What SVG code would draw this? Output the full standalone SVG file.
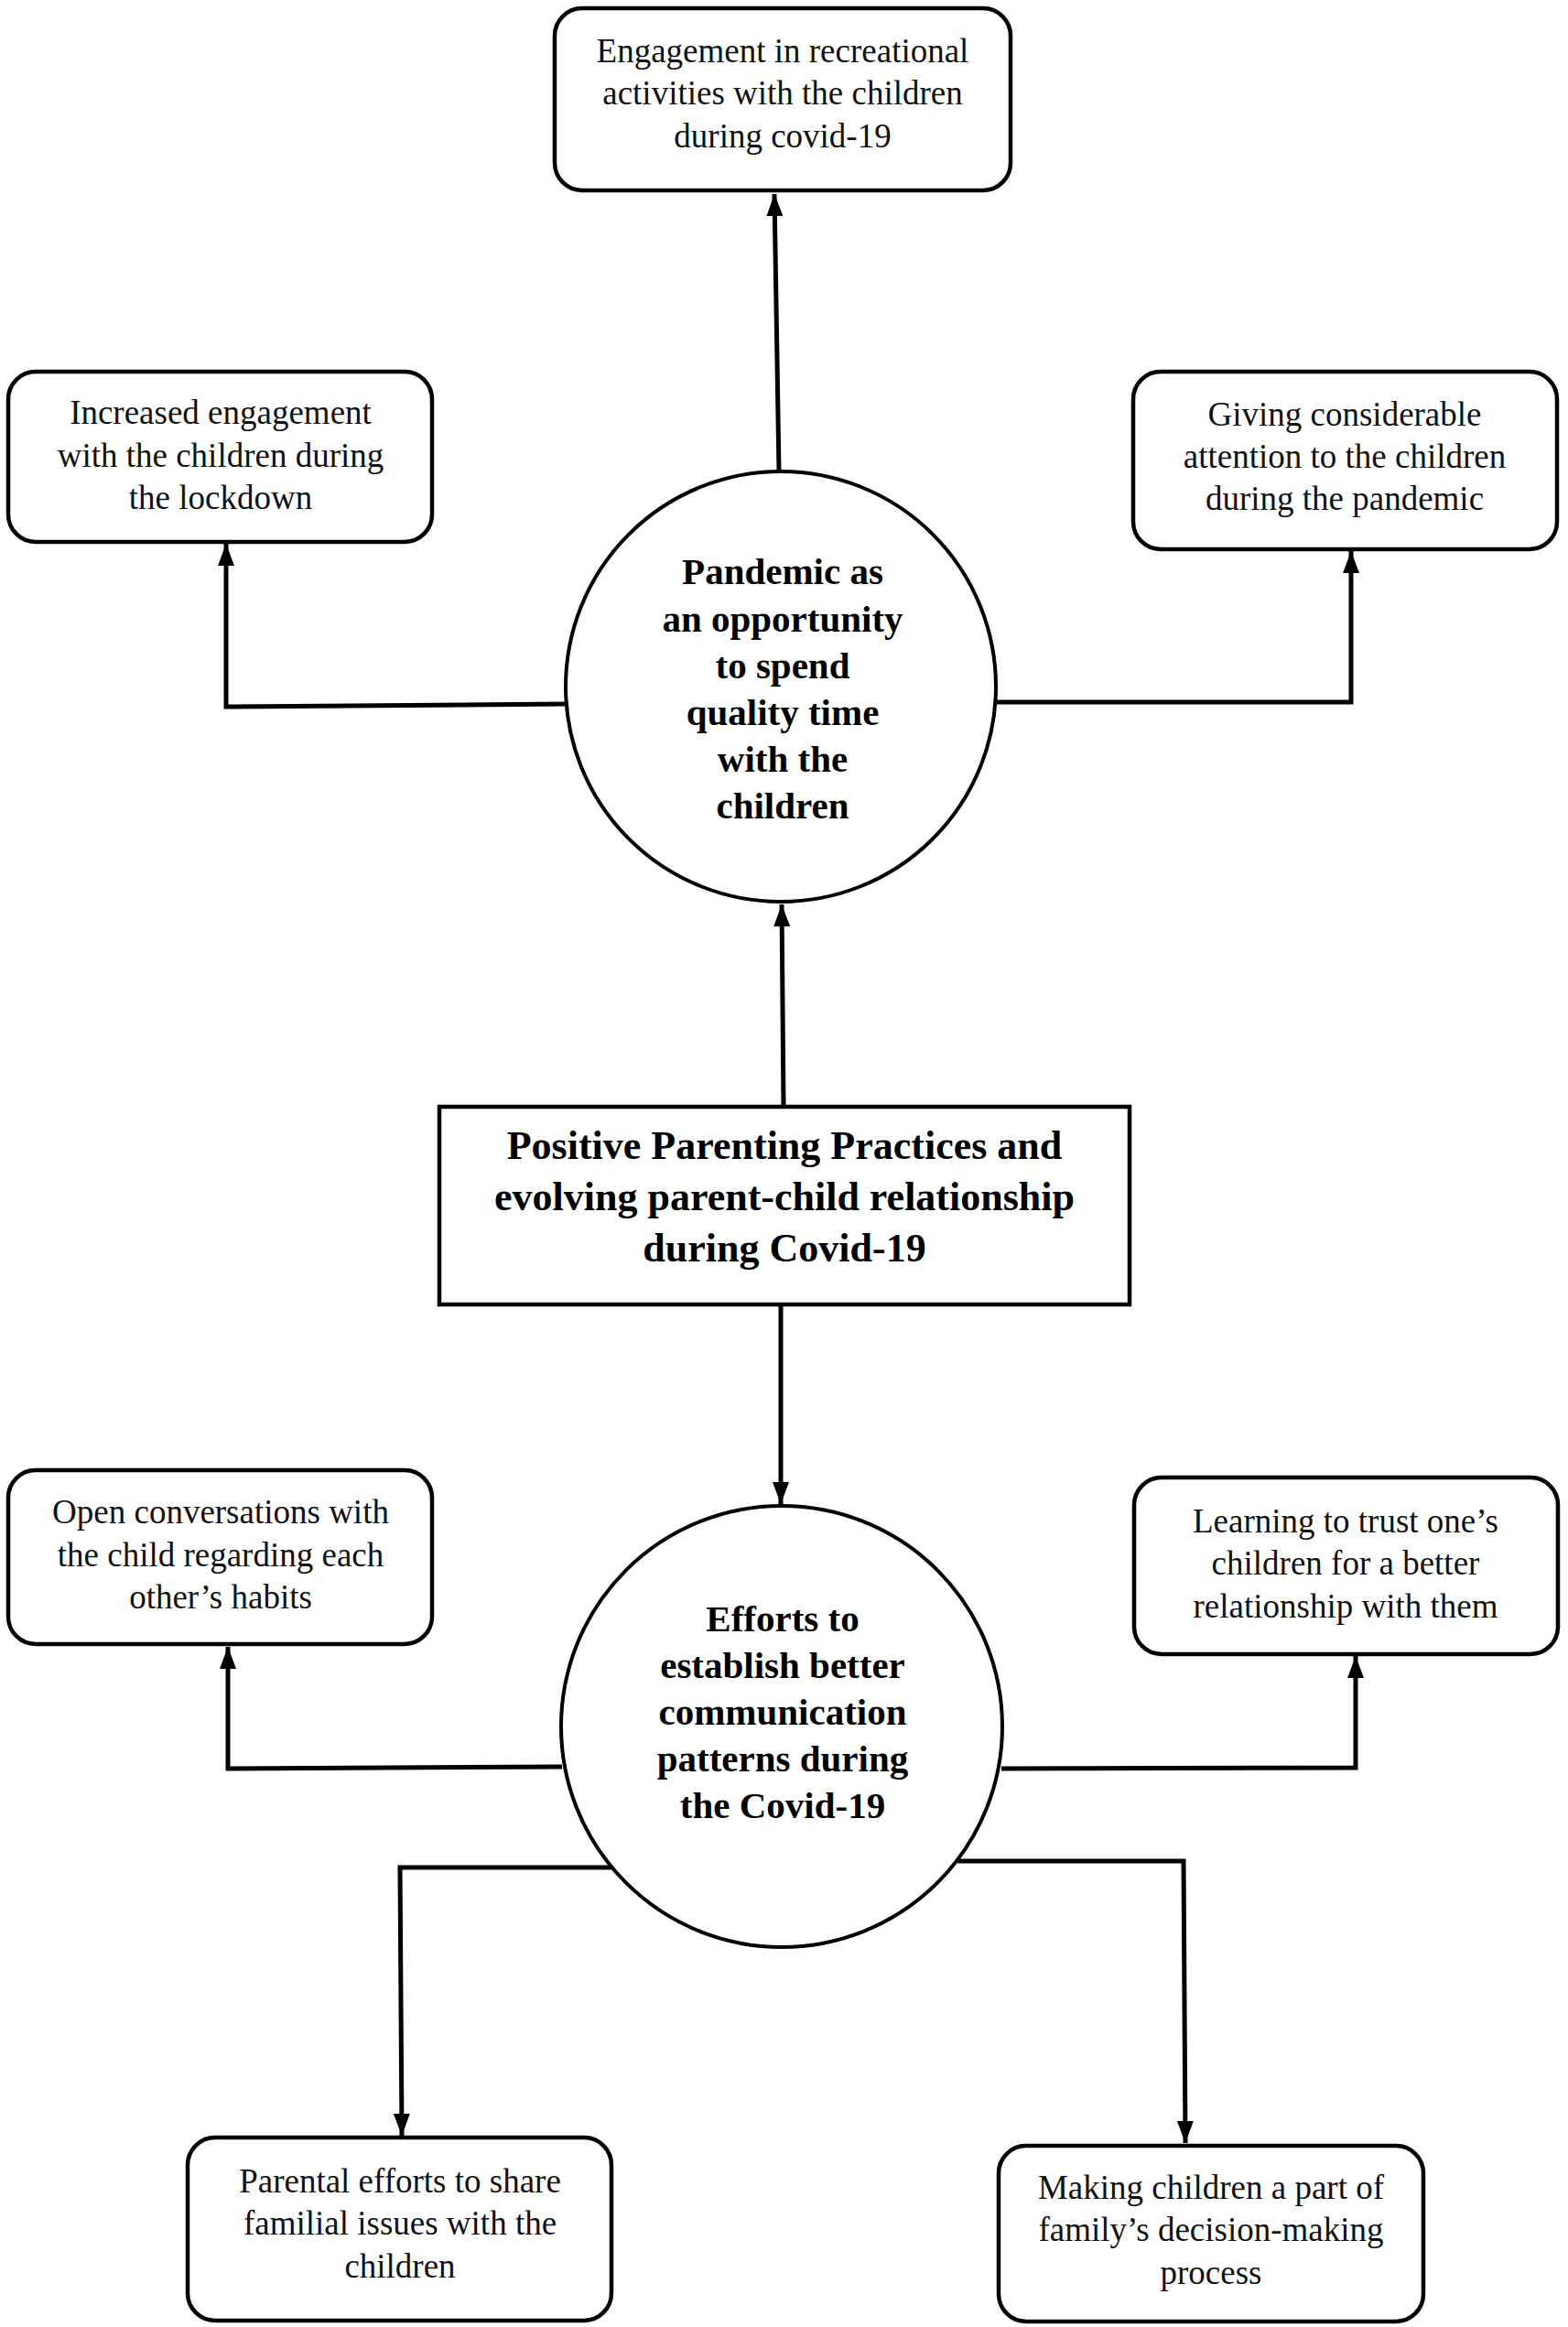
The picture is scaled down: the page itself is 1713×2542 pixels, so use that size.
<svg xmlns="http://www.w3.org/2000/svg" width="1713" height="2542" viewBox="0 0 1713 2542">
<defs>
<marker id="arr" markerUnits="userSpaceOnUse" markerWidth="20" markerHeight="26" viewBox="0 0 20 26" refX="24" refY="10" orient="auto">
<path d="M0,1 L24,10 L0,19 Z" fill="#000"/>
</marker>
<style>
.box{fill:#fff;stroke:#000;stroke-width:4.5}
.circ{fill:#fff;stroke:#000;stroke-width:4}
.t{font-family:"Liberation Serif","Times New Roman",serif;font-size:37px;fill:#111;text-anchor:middle}
.b{font-family:"Liberation Serif","Times New Roman",serif;font-size:41px;font-weight:bold;fill:#000;text-anchor:middle}
.bc{font-family:"Liberation Serif","Times New Roman",serif;font-size:44px;font-weight:bold;fill:#000;text-anchor:middle}
.c{fill:none;stroke:#000;stroke-width:5}
</style>
</defs>
<rect width="1713" height="2542" fill="#fff"/>
<g id="connectors">
<path class="c" d="M851,515 L846,212" marker-end="url(#arr)"/>
<path class="c" d="M619,769 L247,772 L247,594" marker-end="url(#arr)"/>
<path class="c" d="M1088,767 L1476,767 L1476,602" marker-end="url(#arr)"/>
<path class="c" d="M856,1208 L854,988" marker-end="url(#arr)"/>
<path class="c" d="M853,1425 L853,1643" marker-end="url(#arr)"/>
<path class="c" d="M614,1930 L249,1932 L249,1799" marker-end="url(#arr)"/>
<path class="c" d="M1094,1932 L1481,1931 L1481,1809" marker-end="url(#arr)"/>
<path class="c" d="M673,2040 L437,2040 L439,2333" marker-end="url(#arr)"/>
<path class="c" d="M1046,2033 L1293,2033 L1295,2341" marker-end="url(#arr)"/>
</g>
<g id="n-top">
<rect class="box" x="606" y="9" width="498" height="199" rx="30"/>
<text class="t" x="855" y="68">Engagement in recreational</text>
<text class="t" x="855" y="114">activities with the children</text>
<text class="t" x="855" y="161">during covid-19</text>
</g>
<g id="n-left-top">
<rect class="box" x="9" y="406" width="463" height="186" rx="30"/>
<text class="t" x="241" y="463">Increased engagement</text>
<text class="t" x="241" y="510">with the children during</text>
<text class="t" x="241" y="556">the lockdown</text>
</g>
<g id="n-right-top">
<rect class="box" x="1238" y="406" width="463" height="194" rx="30"/>
<text class="t" x="1469" y="465">Giving considerable</text>
<text class="t" x="1469" y="511">attention to the children</text>
<text class="t" x="1469" y="557">during the pandemic</text>
</g>
<g id="n-circle1">
<circle class="circ" cx="853" cy="750" r="235"/>
<text class="b" x="855" y="638">Pandemic as</text>
<text class="b" x="855" y="690">an opportunity</text>
<text class="b" x="855" y="741">to spend</text>
<text class="b" x="855" y="792">quality time</text>
<text class="b" x="855" y="843">with the</text>
<text class="b" x="855" y="894">children</text>
</g>
<g id="n-center">
<rect class="box" x="480" y="1209" width="754" height="216"/>
<text class="bc" x="857" y="1266">Positive Parenting Practices and</text>
<text class="bc" x="857" y="1322">evolving parent-child relationship</text>
<text class="bc" x="857" y="1378">during Covid-19</text>
</g>
<g id="n-circle2">
<circle class="circ" cx="854" cy="1886" r="241"/>
<text class="b" x="855" y="1782">Efforts to</text>
<text class="b" x="855" y="1833">establish better</text>
<text class="b" x="855" y="1884">communication</text>
<text class="b" x="855" y="1935">patterns during</text>
<text class="b" x="855" y="1986">the Covid-19</text>
</g>
<g id="n-left-mid">
<rect class="box" x="9" y="1606" width="463" height="190" rx="30"/>
<text class="t" x="241" y="1664">Open conversations with</text>
<text class="t" x="241" y="1711">the child regarding each</text>
<text class="t" x="241" y="1757">other’s habits</text>
</g>
<g id="n-right-mid">
<rect class="box" x="1239" y="1614" width="463" height="193" rx="30"/>
<text class="t" x="1470" y="1674">Learning to trust one’s</text>
<text class="t" x="1470" y="1720">children for a better</text>
<text class="t" x="1470" y="1767">relationship with them</text>
</g>
<g id="n-bottom-left">
<rect class="box" x="205" y="2335" width="463" height="200" rx="30"/>
<text class="t" x="437" y="2395">Parental efforts to share</text>
<text class="t" x="437" y="2441">familial issues with the</text>
<text class="t" x="437" y="2488">children</text>
</g>
<g id="n-bottom-right">
<rect class="box" x="1091" y="2344" width="464" height="192" rx="30"/>
<text class="t" x="1323" y="2402">Making children a part of</text>
<text class="t" x="1323" y="2448">family’s decision-making</text>
<text class="t" x="1323" y="2495">process</text>
</g>
</svg>
